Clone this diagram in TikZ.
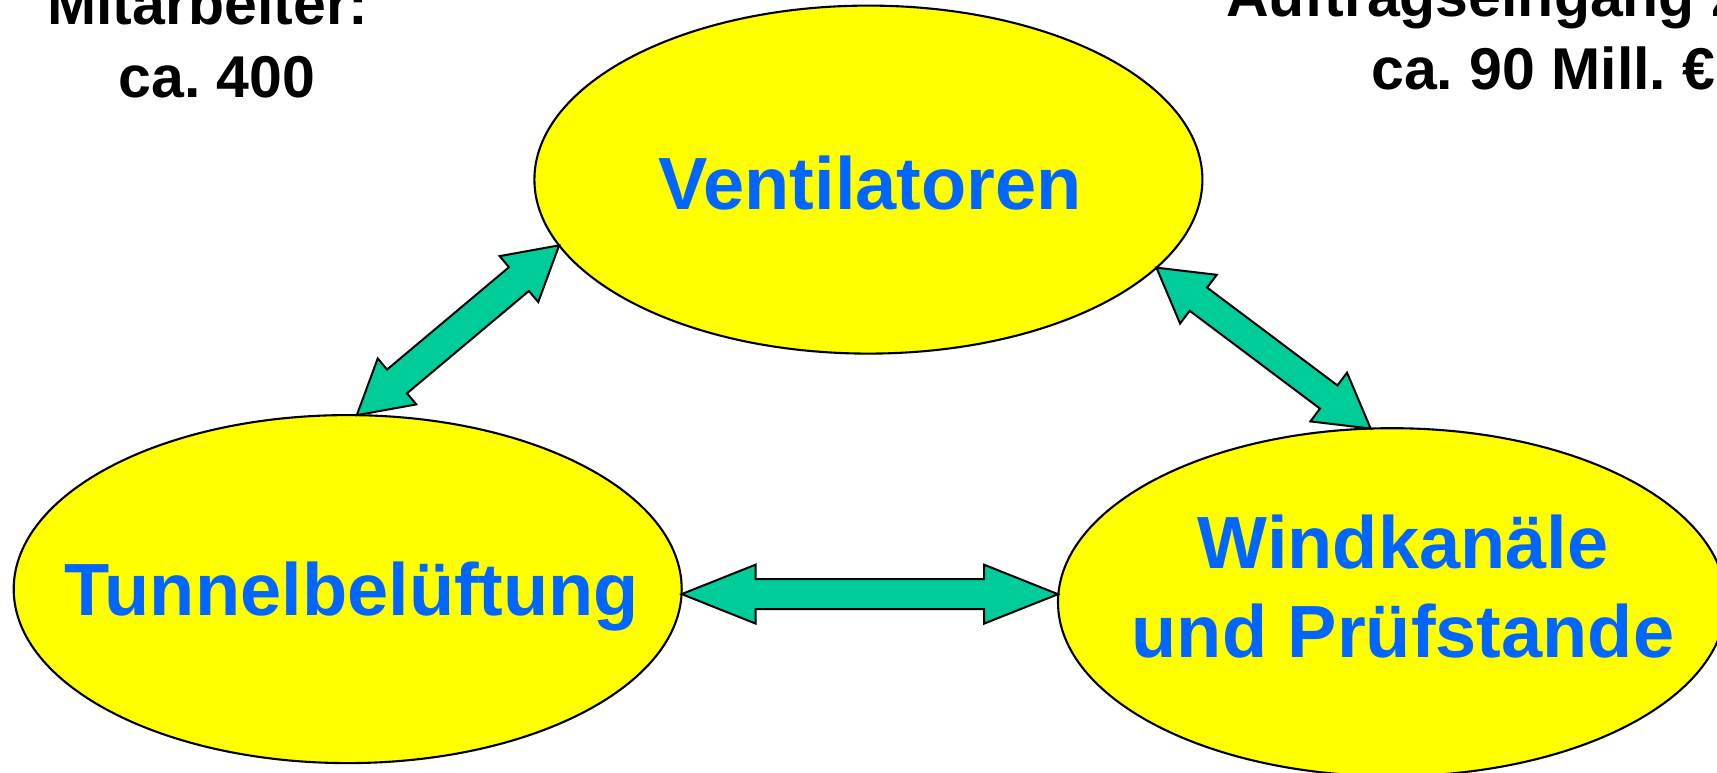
\documentclass[tikz,border=0pt]{standalone}
\usepackage{fontspec}
\setmainfont{Liberation Sans}
\usetikzlibrary{shapes.geometric,calc}
\definecolor{ellyellow}{RGB}{255,255,0}
\definecolor{txtblue}{RGB}{0,102,255}
\definecolor{arrgreen}{RGB}{0,204,153}
\tikzset{
 bubble/.style={ellipse, draw=black, line width=2.1pt, fill=ellyellow,
   minimum width=668pt, minimum height=348pt, inner sep=0pt, outer sep=0pt},
 bubbletext/.style={text=txtblue, font=\fontsize{74}{89}\selectfont\bfseries, inner sep=0pt, anchor=base},
 figtext/.style={text=black, font=\fontsize{59}{73}\selectfont\bfseries, inner sep=0pt},
 blockarrow/.style={fill=arrgreen, draw=black, line width=2pt, line join=miter},
}
% #1,#2 tips; #3 head length; #4 head half width; #5 shaft half width
\newcommand\dblblockarrow[5]{%
 \filldraw[blockarrow] (#1)
  -- ($ ($(#1)!#3!(#2)$)!#4!90:(#2) $)
  -- ($ ($(#1)!#3!(#2)$)!#5!90:(#2) $)
  -- ($ ($(#2)!#3!(#1)$)!#5!-90:(#1) $)
  -- ($ ($(#2)!#3!(#1)$)!#4!-90:(#1) $)
  -- (#2)
  -- ($ ($(#2)!#3!(#1)$)!#4!90:(#1) $)
  -- ($ ($(#2)!#3!(#1)$)!#5!90:(#1) $)
  -- ($ ($(#1)!#3!(#2)$)!#5!-90:(#2) $)
  -- ($ ($(#1)!#3!(#2)$)!#4!-90:(#2) $)
  -- cycle;}
\frenchspacing
\begin{document}
\begin{tikzpicture}[x=1pt,y=-1pt]
\useasboundingbox (0,0) rectangle (1717,773);
\clip (0,0) rectangle (1717,773);
% ellipses
\node[bubble] (V) at (868.4,179.6) {};
\node[bubble] (T) at (347.7,589.1) {};
\node[bubble] (W) at (1392,602.2) {};
% labels in ellipses
\node[bubbletext] (Vtext) at (870,210) {Ventilatoren};
\node[bubbletext] (Ttext) at (352,615) {Tunnelbelüftung};
\node[bubbletext] (Wtext1) at (1403,568) {Windkanäle};
\node[bubbletext] (Wtext2) at (1403,657) {und Prüfstande};
% top texts
\node[figtext, anchor=base] (m1) at (208,25) {\frenchspacing Mitarbeiter:};
\node[figtext, anchor=base] (m2) at (217,98) {\frenchspacing ca. 400};
\node[figtext, anchor=base west] (a1) at (1226,17) {\frenchspacing Auftragseingang 2};
\node[figtext, anchor=base west] (a2) at (1371,90) {\frenchspacing ca. 90 Mill. €};
% arrow tips on ellipse borders
\coordinate (vl) at (V.192.25);
\coordinate (tt) at (T.87);
\coordinate (vr) at (V.-17.4);
\coordinate (wt) at (W.97.8);
\coordinate (tr) at ($(T.east)+(0,5)$);
\coordinate (wl) at ($(W.west)+(0,-8)$);
% block arrows
\dblblockarrow{vl}{tt}{52.5pt}{30pt}{15.5pt}
\dblblockarrow{vr}{wt}{52.5pt}{30.5pt}{14.5pt}
\dblblockarrow{tr}{wl}{74pt}{29.5pt}{15pt}
\end{tikzpicture}
\end{document}
